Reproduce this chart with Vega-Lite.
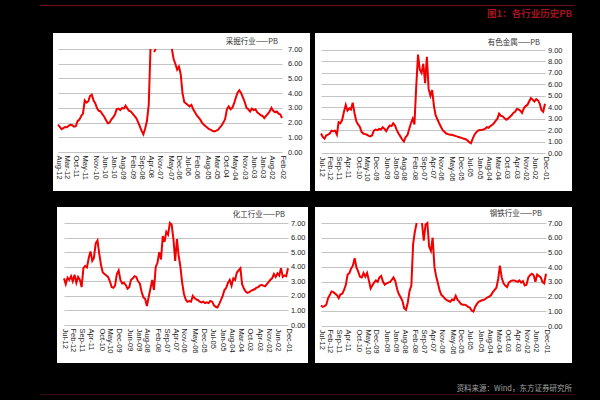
{
"$schema": "https://vega.github.io/schema/vega-lite/v6.json",
"background": "#000000",
"padding": {"left": 40, "top": 5, "right": 30, "bottom": 10},
"config": {
 "view": {"stroke": null, "fill": null},
 "font": "Liberation Sans",
 "axisX": {"grid": false, "domain": false, "ticks": false, "tickSize": 0, "labelAngle": 90, "labelPadding": 2, "labelFontSize": 7.5, "labelColor": "#222222", "labelOverlap": false, "labelFlush": false, "labelBound": false},
 "axisY": {"grid": true, "gridColor": "#c4c4c4", "gridWidth": 1, "domain": false, "ticks": false, "tickSize": 0, "labelPadding": 0, "labelFontSize": 7.5, "labelColor": "#222222", "labelOverlap": false, "labelFlush": false, "labelBound": false}
},
"data": {"format": {"parse": {"d": "date:'%Y-%m'"}}, "values": [
{"d":"2012-08","a":1.87,"b":null,"c":null,"e":null},
{"d":"2012-07","a":1.7,"b":1.7,"c":3.2,"e":1.4},
{"d":"2012-06","a":1.55,"b":1.4,"c":2.8,"e":1.3},
{"d":"2012-05","a":1.62,"b":1.26,"c":3.25,"e":1.35},
{"d":"2012-04","a":1.7,"b":1.55,"c":3.1,"e":1.45},
{"d":"2012-03","a":1.68,"b":1.6,"c":3.35,"e":1.9},
{"d":"2012-02","a":1.78,"b":1.7,"c":3.0,"e":2.1},
{"d":"2012-01","a":1.85,"b":1.95,"c":3.45,"e":2.35},
{"d":"2011-12","a":1.82,"b":1.9,"c":2.9,"e":2.3},
{"d":"2011-11","a":1.72,"b":1.95,"c":3.3,"e":2.2},
{"d":"2011-10","a":1.75,"b":1.6,"c":3.1,"e":2.1},
{"d":"2011-09","a":2.1,"b":2.7,"c":2.6,"e":1.9},
{"d":"2011-08","a":2.2,"b":2.6,"c":3.9,"e":2.15},
{"d":"2011-07","a":2.45,"b":2.9,"c":4.05,"e":2.2},
{"d":"2011-06","a":2.6,"b":3.6,"c":3.95,"e":2.45},
{"d":"2011-05","a":3.5,"b":4.2,"c":4.6,"e":2.8},
{"d":"2011-04","a":3.35,"b":3.7,"c":5.05,"e":3.5},
{"d":"2011-03","a":3.45,"b":3.9,"c":4.4,"e":3.6},
{"d":"2011-02","a":3.8,"b":3.8,"c":4.6,"e":3.9},
{"d":"2011-01","a":3.9,"b":4.4,"c":5.6,"e":4.1},
{"d":"2010-12","a":3.5,"b":3.5,"c":5.8,"e":4.6},
{"d":"2010-11","a":3.3,"b":2.8,"c":4.9,"e":4.0},
{"d":"2010-10","a":2.95,"b":2.5,"c":4.1,"e":3.7},
{"d":"2010-09","a":2.8,"b":2.3,"c":3.6,"e":3.35},
{"d":"2010-08","a":2.75,"b":1.85,"c":3.5,"e":3.3},
{"d":"2010-07","a":2.55,"b":1.7,"c":3.4,"e":3.6},
{"d":"2010-06","a":2.4,"b":1.65,"c":3.3,"e":3.35},
{"d":"2010-05","a":2.15,"b":1.6,"c":3.0,"e":3.6},
{"d":"2010-04","a":1.95,"b":1.5,"c":2.6,"e":3.1},
{"d":"2010-03","a":2.0,"b":1.45,"c":2.55,"e":2.55},
{"d":"2010-02","a":2.2,"b":1.55,"c":2.7,"e":2.75},
{"d":"2010-01","a":2.35,"b":1.95,"c":3.5,"e":2.95},
{"d":"2009-12","a":2.55,"b":2.05,"c":3.75,"e":3.1},
{"d":"2009-11","a":2.9,"b":2.0,"c":3.1,"e":3.0},
{"d":"2009-10","a":2.95,"b":2.1,"c":2.85,"e":3.3},
{"d":"2009-09","a":2.85,"b":2.05,"c":2.9,"e":3.4},
{"d":"2009-08","a":3.0,"b":2.25,"c":2.75,"e":3.0},
{"d":"2009-07","a":2.95,"b":2.1,"c":2.5,"e":2.8},
{"d":"2009-06","a":3.15,"b":1.9,"c":2.6,"e":2.9},
{"d":"2009-05","a":2.95,"b":2.2,"c":3.1,"e":2.95},
{"d":"2009-04","a":2.8,"b":2.4,"c":3.2,"e":3.0},
{"d":"2009-03","a":2.75,"b":2.35,"c":3.35,"e":3.15},
{"d":"2009-02","a":2.6,"b":2.6,"c":3.3,"e":3.3},
{"d":"2009-01","a":2.45,"b":2.4,"c":3.0,"e":3.05},
{"d":"2008-12","a":2.3,"b":2.0,"c":2.85,"e":2.5},
{"d":"2008-11","a":2.05,"b":1.7,"c":2.3,"e":2.15},
{"d":"2008-10","a":1.75,"b":1.45,"c":1.9,"e":1.95},
{"d":"2008-09","a":1.45,"b":1.2,"c":1.8,"e":1.7},
{"d":"2008-08","a":1.2,"b":1.0,"c":1.3,"e":1.2},
{"d":"2008-07","a":1.6,"b":1.4,"c":1.9,"e":1.1},
{"d":"2008-06","a":2.1,"b":1.55,"c":2.5,"e":1.6},
{"d":"2008-05","a":3.2,"b":2.1,"c":3.1,"e":2.4},
{"d":"2008-04","a":7.5,"b":2.6,"c":2.4,"e":2.75},
{"d":"2008-03","a":null,"b":3.0,"c":4.0,"e":5.6},
{"d":"2008-02","a":6.8,"b":2.5,"c":4.25,"e":6.4},
{"d":"2008-01","a":7.4,"b":5.8,"c":5.0,"e":7.3},
{"d":"2007-12","a":null,"b":8.6,"c":4.5,"e":null},
{"d":"2007-11","a":null,"b":7.3,"c":6.1,"e":null},
{"d":"2007-10","a":null,"b":7.0,"c":5.7,"e":7.3},
{"d":"2007-09","a":null,"b":7.8,"c":6.4,"e":5.8},
{"d":"2007-08","a":null,"b":6.1,"c":6.2,"e":6.9},
{"d":"2007-07","a":null,"b":8.4,"c":7.0,"e":7.3},
{"d":"2007-06","a":null,"b":5.6,"c":6.9,"e":5.4},
{"d":"2007-05","a":null,"b":5.0,"c":5.9,"e":5.1},
{"d":"2007-04","a":7.3,"b":5.5,"c":4.4,"e":6.0},
{"d":"2007-03","a":6.3,"b":4.1,"c":5.9,"e":4.0},
{"d":"2007-02","a":6.0,"b":3.3,"c":4.8,"e":3.4},
{"d":"2007-01","a":5.6,"b":2.95,"c":4.0,"e":2.9},
{"d":"2006-12","a":5.8,"b":2.6,"c":2.9,"e":2.4},
{"d":"2006-11","a":5.3,"b":2.3,"c":2.15,"e":2.1},
{"d":"2006-10","a":4.0,"b":2.0,"c":1.75,"e":2.0},
{"d":"2006-09","a":3.4,"b":1.85,"c":1.6,"e":1.85},
{"d":"2006-08","a":3.3,"b":1.7,"c":1.65,"e":1.75},
{"d":"2006-07","a":3.2,"b":1.65,"c":1.6,"e":1.7},
{"d":"2006-06","a":3.1,"b":1.6,"c":2.0,"e":1.65},
{"d":"2006-05","a":3.2,"b":1.6,"c":1.85,"e":1.8},
{"d":"2006-04","a":2.9,"b":1.55,"c":1.75,"e":1.75},
{"d":"2006-03","a":2.7,"b":1.5,"c":1.7,"e":2.05},
{"d":"2006-02","a":2.5,"b":1.45,"c":1.6,"e":1.8},
{"d":"2006-01","a":2.35,"b":1.4,"c":1.55,"e":1.65},
{"d":"2005-12","a":2.2,"b":1.35,"c":1.6,"e":1.5},
{"d":"2005-11","a":2.0,"b":1.3,"c":1.5,"e":1.45},
{"d":"2005-10","a":1.85,"b":1.25,"c":1.55,"e":1.45},
{"d":"2005-09","a":1.75,"b":1.2,"c":1.5,"e":1.4},
{"d":"2005-08","a":1.65,"b":1.1,"c":1.65,"e":1.3},
{"d":"2005-07","a":1.55,"b":0.95,"c":1.6,"e":1.25},
{"d":"2005-06","a":1.5,"b":0.85,"c":1.35,"e":1.05},
{"d":"2005-05","a":1.42,"b":1.25,"c":1.25,"e":0.98},
{"d":"2005-04","a":1.4,"b":1.6,"c":1.2,"e":1.3},
{"d":"2005-03","a":1.45,"b":1.8,"c":1.45,"e":1.5},
{"d":"2005-02","a":1.5,"b":1.95,"c":1.7,"e":1.65},
{"d":"2005-01","a":1.65,"b":2.0,"c":2.0,"e":1.7},
{"d":"2004-12","a":1.8,"b":2.0,"c":2.4,"e":1.75},
{"d":"2004-11","a":2.0,"b":2.05,"c":2.55,"e":1.78},
{"d":"2004-10","a":2.25,"b":2.1,"c":2.9,"e":1.85},
{"d":"2004-09","a":2.9,"b":2.25,"c":3.1,"e":1.95},
{"d":"2004-08","a":3.1,"b":2.2,"c":2.7,"e":2.0},
{"d":"2004-07","a":2.9,"b":2.35,"c":3.2,"e":2.1},
{"d":"2004-06","a":3.0,"b":2.45,"c":3.1,"e":2.3},
{"d":"2004-05","a":3.3,"b":2.6,"c":3.6,"e":2.45},
{"d":"2004-04","a":3.7,"b":2.8,"c":3.75,"e":2.6},
{"d":"2004-03","a":4.05,"b":3.0,"c":3.9,"e":3.2},
{"d":"2004-02","a":4.2,"b":3.45,"c":2.8,"e":4.1},
{"d":"2004-01","a":4.0,"b":3.25,"c":2.5,"e":3.3},
{"d":"2003-12","a":3.7,"b":3.2,"c":2.3,"e":2.9},
{"d":"2003-11","a":3.4,"b":3.05,"c":2.2,"e":2.75},
{"d":"2003-10","a":3.0,"b":2.9,"c":2.25,"e":2.65},
{"d":"2003-09","a":2.9,"b":3.0,"c":2.35,"e":2.95},
{"d":"2003-08","a":2.75,"b":3.15,"c":2.4,"e":3.05},
{"d":"2003-07","a":2.95,"b":3.3,"c":2.45,"e":3.1},
{"d":"2003-06","a":2.85,"b":3.5,"c":2.55,"e":3.1},
{"d":"2003-05","a":2.9,"b":3.6,"c":2.6,"e":3.05},
{"d":"2003-04","a":2.7,"b":3.85,"c":2.7,"e":3.0},
{"d":"2003-03","a":2.6,"b":3.8,"c":2.75,"e":3.1},
{"d":"2003-02","a":2.5,"b":3.7,"c":2.7,"e":2.95},
{"d":"2003-01","a":2.45,"b":3.5,"c":2.65,"e":3.05},
{"d":"2002-12","a":2.3,"b":3.9,"c":2.8,"e":2.75},
{"d":"2002-11","a":2.45,"b":4.1,"c":2.95,"e":2.8},
{"d":"2002-10","a":2.6,"b":4.2,"c":3.1,"e":3.3},
{"d":"2002-09","a":2.75,"b":4.5,"c":3.2,"e":3.45},
{"d":"2002-08","a":3.0,"b":4.8,"c":3.5,"e":3.55},
{"d":"2002-07","a":2.8,"b":4.65,"c":3.3,"e":3.45},
{"d":"2002-06","a":2.7,"b":4.5,"c":3.55,"e":3.0},
{"d":"2002-05","a":2.75,"b":4.7,"c":3.4,"e":3.5},
{"d":"2002-04","a":2.6,"b":4.6,"c":3.9,"e":3.4},
{"d":"2002-03","a":2.55,"b":4.3,"c":3.3,"e":3.3},
{"d":"2002-02","a":2.3,"b":3.75,"c":3.4,"e":3.0},
{"d":"2002-01","a":null,"b":3.6,"c":3.35,"e":2.9},
{"d":"2001-12","a":null,"b":4.3,"c":3.9,"e":3.55}
]},
"spacing": 21,
"vconcat": [
 {
  "spacing": 14,
  "vconcat": [
   {
    "width": 535, "height": 1,
    "view": {"fill": "#6e0d16", "stroke": null},
    "title": {"text": "图1：各行业历史PB", "orient": "bottom", "anchor": "end", "frame": "group", "offset": 3, "dx": -3, "fontSize": 9.5, "fontWeight": "bold", "color": "#a3121e", "font": "Noto Sans CJK SC"},
    "data": {"values": [{}]},
    "mark": {"type": "point", "opacity": 0, "size": 0},
    "encoding": {}
   },
   {
    "spacing": 16,
    "vconcat": [
     {
      "spacing": 12,
      "hconcat": [
       {"width": 1, "height": 10, "data": {"values": [{}]}, "mark": {"type": "point", "opacity": 0, "size": 0}, "encoding": {}},
       {
        "spacing": 5,
        "hconcat": [
         {
          "width": 257, "height": 158,
          "view": {"fill": "#ffffff", "stroke": null},
          "title": {"text": "采掘行业——PB", "orient": "top", "anchor": "end", "frame": "group", "offset": -12, "dx": -32, "fontSize": 7.5, "fontWeight": "normal", "color": "#333333", "font": "Noto Sans CJK SC"},
          "mark": {"type": "line", "color": "#f00000", "strokeWidth": 2},
          "encoding": {
           "x": {"field": "d", "type": "temporal", "title": null,
            "scale": {"domain": [{"year": 2002, "month": 2, "date": 1}, {"year": 2012, "month": 8, "date": 1}], "range": [229, 5]},
            "axis": {"orient": "bottom", "offset": -38, "format": "%b-%y", "values": [
             {"year": 2012, "month": 8, "date": 1}, {"year": 2012, "month": 3, "date": 1}, {"year": 2011, "month": 10, "date": 1}, {"year": 2011, "month": 5, "date": 1}, {"year": 2010, "month": 11, "date": 1}, {"year": 2010, "month": 6, "date": 1}, {"year": 2010, "month": 1, "date": 1}, {"year": 2009, "month": 8, "date": 1}, {"year": 2009, "month": 2, "date": 1}, {"year": 2008, "month": 9, "date": 1}, {"year": 2008, "month": 4, "date": 1}, {"year": 2007, "month": 11, "date": 1}, {"year": 2007, "month": 5, "date": 1}, {"year": 2006, "month": 12, "date": 1}, {"year": 2006, "month": 7, "date": 1}, {"year": 2006, "month": 2, "date": 1}, {"year": 2005, "month": 8, "date": 1}, {"year": 2005, "month": 3, "date": 1}, {"year": 2004, "month": 10, "date": 1}, {"year": 2004, "month": 5, "date": 1}, {"year": 2003, "month": 11, "date": 1}, {"year": 2003, "month": 6, "date": 1}, {"year": 2003, "month": 1, "date": 1}, {"year": 2002, "month": 8, "date": 1}, {"year": 2002, "month": 2, "date": 1}]}},
           "y": {"field": "a", "type": "quantitative", "title": null,
            "scale": {"domain": [0, 7], "range": [119, 16], "clamp": true, "nice": false, "zero": false},
            "axis": {"orient": "left", "offset": -249, "values": [0, 1, 2, 3, 4, 5, 6, 7], "format": ".2f"}}
          }
         },
         {
          "width": 257, "height": 158,
          "view": {"fill": "#ffffff", "stroke": null},
          "title": {"text": "有色金属——PB", "orient": "top", "anchor": "end", "frame": "group", "offset": -13, "dx": -32, "fontSize": 7.5, "fontWeight": "normal", "color": "#333333", "font": "Noto Sans CJK SC"},
          "mark": {"type": "line", "color": "#f00000", "strokeWidth": 2},
          "encoding": {
           "x": {"field": "d", "type": "temporal", "title": null,
            "scale": {"domain": [{"year": 2001, "month": 12, "date": 1}, {"year": 2012, "month": 7, "date": 1}], "range": [230, 6]},
            "axis": {"orient": "bottom", "offset": -37, "format": "%b-%y", "values": [
             {"year": 2012, "month": 7, "date": 1}, {"year": 2012, "month": 2, "date": 1}, {"year": 2011, "month": 9, "date": 1}, {"year": 2011, "month": 4, "date": 1}, {"year": 2010, "month": 10, "date": 1}, {"year": 2010, "month": 5, "date": 1}, {"year": 2009, "month": 12, "date": 1}, {"year": 2009, "month": 6, "date": 1}, {"year": 2009, "month": 1, "date": 1}, {"year": 2008, "month": 8, "date": 1}, {"year": 2008, "month": 2, "date": 1}, {"year": 2007, "month": 9, "date": 1}, {"year": 2007, "month": 4, "date": 1}, {"year": 2006, "month": 11, "date": 1}, {"year": 2006, "month": 5, "date": 1}, {"year": 2005, "month": 12, "date": 1}, {"year": 2005, "month": 7, "date": 1}, {"year": 2005, "month": 1, "date": 1}, {"year": 2004, "month": 8, "date": 1}, {"year": 2004, "month": 3, "date": 1}, {"year": 2003, "month": 10, "date": 1}, {"year": 2003, "month": 4, "date": 1}, {"year": 2002, "month": 11, "date": 1}, {"year": 2002, "month": 6, "date": 1}, {"year": 2001, "month": 12, "date": 1}]}},
           "y": {"field": "b", "type": "quantitative", "title": null,
            "scale": {"domain": [0, 9], "range": [120, 17], "clamp": true, "nice": false, "zero": false},
            "axis": {"orient": "left", "offset": -247, "values": [0, 1, 2, 3, 4, 5, 6, 7, 8, 9], "format": ".2f"}}
          }
         }
        ]
       }
      ]
     },
     {
      "spacing": 16,
      "hconcat": [
       {"width": 1, "height": 10, "data": {"values": [{}]}, "mark": {"type": "point", "opacity": 0, "size": 0}, "encoding": {}},
       {
        "spacing": 7,
        "hconcat": [
         {
          "width": 251, "height": 156,
          "view": {"fill": "#ffffff", "stroke": null},
          "title": {"text": "化工行业——PB", "orient": "top", "anchor": "end", "frame": "group", "offset": -11, "dx": -23, "fontSize": 7.5, "fontWeight": "normal", "color": "#333333", "font": "Noto Sans CJK SC"},
          "mark": {"type": "line", "color": "#f00000", "strokeWidth": 2},
          "encoding": {
           "x": {"field": "d", "type": "temporal", "title": null,
            "scale": {"domain": [{"year": 2001, "month": 12, "date": 1}, {"year": 2012, "month": 7, "date": 1}], "range": [231, 7]},
            "axis": {"orient": "bottom", "offset": -37, "format": "%b-%y", "values": [
             {"year": 2012, "month": 7, "date": 1}, {"year": 2012, "month": 2, "date": 1}, {"year": 2011, "month": 9, "date": 1}, {"year": 2011, "month": 4, "date": 1}, {"year": 2010, "month": 10, "date": 1}, {"year": 2010, "month": 5, "date": 1}, {"year": 2009, "month": 12, "date": 1}, {"year": 2009, "month": 6, "date": 1}, {"year": 2009, "month": 1, "date": 1}, {"year": 2008, "month": 8, "date": 1}, {"year": 2008, "month": 2, "date": 1}, {"year": 2007, "month": 9, "date": 1}, {"year": 2007, "month": 4, "date": 1}, {"year": 2006, "month": 11, "date": 1}, {"year": 2006, "month": 5, "date": 1}, {"year": 2005, "month": 12, "date": 1}, {"year": 2005, "month": 7, "date": 1}, {"year": 2005, "month": 1, "date": 1}, {"year": 2004, "month": 8, "date": 1}, {"year": 2004, "month": 3, "date": 1}, {"year": 2003, "month": 10, "date": 1}, {"year": 2003, "month": 4, "date": 1}, {"year": 2002, "month": 11, "date": 1}, {"year": 2002, "month": 6, "date": 1}, {"year": 2001, "month": 12, "date": 1}]}},
           "y": {"field": "c", "type": "quantitative", "title": null,
            "scale": {"domain": [0, 7], "range": [118, 16], "clamp": true, "nice": false, "zero": false},
            "axis": {"orient": "left", "offset": -248, "values": [0, 1, 2, 3, 4, 5, 6, 7], "format": ".2f"}}
          }
         },
         {
          "width": 257, "height": 156,
          "view": {"fill": "#ffffff", "stroke": null},
          "title": {"text": "钢铁行业——PB", "orient": "top", "anchor": "end", "frame": "group", "offset": -10, "dx": -30, "fontSize": 7.5, "fontWeight": "normal", "color": "#333333", "font": "Noto Sans CJK SC"},
          "mark": {"type": "line", "color": "#f00000", "strokeWidth": 2},
          "encoding": {
           "x": {"field": "d", "type": "temporal", "title": null,
            "scale": {"domain": [{"year": 2001, "month": 12, "date": 1}, {"year": 2012, "month": 7, "date": 1}], "range": [231, 6]},
            "axis": {"orient": "bottom", "offset": -36, "format": "%b-%y", "values": [
             {"year": 2012, "month": 7, "date": 1}, {"year": 2012, "month": 2, "date": 1}, {"year": 2011, "month": 9, "date": 1}, {"year": 2011, "month": 4, "date": 1}, {"year": 2010, "month": 10, "date": 1}, {"year": 2010, "month": 5, "date": 1}, {"year": 2009, "month": 12, "date": 1}, {"year": 2009, "month": 6, "date": 1}, {"year": 2009, "month": 1, "date": 1}, {"year": 2008, "month": 8, "date": 1}, {"year": 2008, "month": 2, "date": 1}, {"year": 2007, "month": 9, "date": 1}, {"year": 2007, "month": 4, "date": 1}, {"year": 2006, "month": 11, "date": 1}, {"year": 2006, "month": 5, "date": 1}, {"year": 2005, "month": 12, "date": 1}, {"year": 2005, "month": 7, "date": 1}, {"year": 2005, "month": 1, "date": 1}, {"year": 2004, "month": 8, "date": 1}, {"year": 2004, "month": 3, "date": 1}, {"year": 2003, "month": 10, "date": 1}, {"year": 2003, "month": 4, "date": 1}, {"year": 2002, "month": 11, "date": 1}, {"year": 2002, "month": 6, "date": 1}, {"year": 2001, "month": 12, "date": 1}]}},
           "y": {"field": "e", "type": "quantitative", "title": null,
            "scale": {"domain": [0, 7], "range": [119, 16], "clamp": true, "nice": false, "zero": false},
            "axis": {"orient": "left", "offset": -247, "values": [0, 1, 2, 3, 4, 5, 6, 7], "format": ".2f"}}
          }
         }
        ]
       }
      ]
     }
    ]
   }
  ]
 },
 {
  "width": 535, "height": 1,
  "view": {"fill": "#3a0b10", "stroke": null},
  "title": {"text": "资料来源：Wind，东方证券研究所", "orient": "top", "anchor": "end", "frame": "group", "offset": 2, "dx": -3, "fontSize": 7.5, "fontWeight": "normal", "color": "#a0a0a0", "font": "Noto Sans CJK SC"},
  "data": {"values": [{}]},
  "mark": {"type": "point", "opacity": 0, "size": 0},
  "encoding": {}
 }
]
}
